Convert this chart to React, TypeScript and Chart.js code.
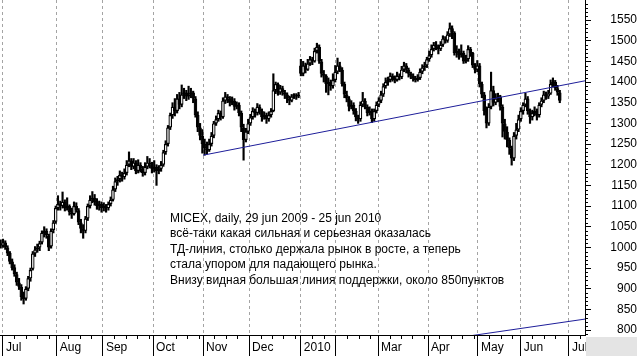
import { useEffect, useRef } from 'react';
import { Chart, registerables } from 'chart.js';

Chart.register(...registerables);

// Daily MICEX candles, 29 Jun 2009 – 25 Jun 2010 (index = trading day)
const opens = [
  1015, 1008, 1004, 1012, 1000, 987, 966, 952, 935, 915,
  905, 880, 876, 900, 925, 948, 985, 995, 1000, 1012,
  1035, 1040, 1028, 1002, 1042, 1062, 1095, 1106, 1100, 1110,
  1095, 1100, 1085, 1080, 1100, 1090, 1060, 1045, 1040, 1070,
  1100, 1115, 1120, 1110, 1100, 1105, 1095, 1100, 1095, 1105,
  1115, 1140, 1160, 1165, 1175, 1170, 1180, 1200, 1210, 1195,
  1205, 1185, 1200, 1190, 1180, 1195, 1205, 1200, 1190, 1195,
  1185, 1190, 1200, 1230, 1250, 1290, 1320, 1340, 1330, 1360,
  1345, 1370, 1375, 1365, 1370, 1375, 1360, 1320, 1290, 1270,
  1250, 1240, 1235, 1250, 1270, 1300, 1310, 1325, 1315, 1355,
  1365, 1360, 1350, 1355, 1340, 1345, 1325, 1290, 1260, 1280,
  1300, 1315, 1330, 1325, 1340, 1330, 1315, 1320, 1310, 1320,
  1330, 1380, 1395, 1375, 1385, 1375, 1370, 1360, 1355, 1365,
  1368, 1365, 1440, 1420, 1440, 1430, 1445, 1455, 1450, 1475,
  1485, 1450, 1420, 1415, 1395, 1400, 1390, 1405, 1425, 1440,
  1430, 1395, 1370, 1360, 1340, 1345, 1330, 1315, 1310, 1345,
  1355, 1340, 1325, 1330, 1310, 1330, 1345, 1355, 1370, 1390,
  1400, 1405, 1415, 1410, 1405, 1415, 1412, 1430, 1440, 1430,
  1420, 1415, 1410, 1405, 1410, 1425, 1435, 1440, 1455, 1465,
  1480, 1490, 1485, 1480, 1490, 1505, 1500, 1515, 1530, 1520,
  1470, 1475, 1465, 1470, 1450, 1455, 1480, 1470, 1440, 1430,
  1440, 1395, 1370, 1330, 1300, 1340, 1380, 1350, 1360, 1365,
  1340, 1300, 1280, 1260, 1240, 1215, 1270, 1285, 1310, 1330,
  1345, 1360, 1330, 1315, 1325, 1330, 1320, 1345, 1355, 1370,
  1365, 1372, 1395, 1400, 1385, 1375,
];
const highs = [
  1022, 1018, 1020, 1016, 1004, 990, 972, 958, 940, 925,
  910, 892, 905, 930, 950, 990, 1002, 1008, 1015, 1040,
  1050, 1045, 1032, 1045, 1065, 1100, 1125, 1112, 1134, 1115,
  1120, 1103, 1095, 1110, 1108, 1094, 1068, 1055, 1075, 1105,
  1125, 1135, 1128, 1118, 1112, 1110, 1108, 1104, 1110, 1122,
  1148, 1168, 1172, 1185, 1182, 1190, 1210, 1231, 1215, 1215,
  1210, 1212, 1205, 1196, 1205, 1220, 1215, 1206, 1210, 1200,
  1198, 1208, 1235, 1258, 1295, 1325, 1350, 1360, 1370, 1375,
  1393, 1385, 1380, 1390, 1385, 1378, 1365, 1328, 1300, 1285,
  1262, 1255, 1262, 1278, 1305, 1318, 1332, 1330, 1362, 1375,
  1370, 1365, 1364, 1360, 1352, 1350, 1330, 1298, 1288, 1310,
  1322, 1338, 1335, 1348, 1345, 1335, 1328, 1325, 1328, 1336,
  1420, 1400, 1398, 1392, 1390, 1380, 1374, 1366, 1370, 1372,
  1372, 1375, 1455, 1450, 1446, 1455, 1462, 1460, 1482, 1494,
  1490, 1455, 1428, 1418, 1410, 1405, 1420, 1440, 1458, 1448,
  1435, 1400, 1378, 1365, 1355, 1350, 1336, 1320, 1352, 1375,
  1360, 1345, 1340, 1335, 1335, 1352, 1362, 1378, 1396, 1410,
  1412, 1422, 1420, 1415, 1424, 1420, 1438, 1448, 1445, 1434,
  1424, 1420, 1414, 1418, 1432, 1442, 1448, 1460, 1475, 1490,
  1496, 1498, 1490, 1498, 1512, 1510, 1522, 1543, 1536, 1522,
  1488, 1480, 1490, 1475, 1465, 1488, 1484, 1472, 1445, 1452,
  1445, 1400, 1375, 1340, 1348, 1424, 1390, 1372, 1373, 1368,
  1345, 1310, 1292, 1265, 1245, 1278, 1300, 1320, 1338, 1350,
  1373, 1365, 1335, 1332, 1340, 1335, 1350, 1362, 1378, 1376,
  1380, 1405, 1410, 1404, 1392, 1380,
];
const lows = [
  1002, 998, 1000, 995, 980, 960, 945, 930, 908, 898,
  872, 863, 872, 895, 918, 945, 978, 988, 992, 1008,
  1025, 1022, 992, 998, 1035, 1058, 1090, 1090, 1095, 1088,
  1090, 1078, 1070, 1078, 1085, 1055, 1035, 1022, 1035, 1065,
  1095, 1108, 1102, 1092, 1090, 1085, 1088, 1085, 1090, 1100,
  1112, 1135, 1150, 1158, 1160, 1165, 1175, 1195, 1188, 1190,
  1178, 1180, 1182, 1172, 1175, 1190, 1192, 1180, 1182, 1150,
  1178, 1184, 1196, 1225, 1245, 1285, 1312, 1318, 1325, 1335,
  1340, 1360, 1355, 1358, 1362, 1350, 1315, 1280, 1260, 1228,
  1223, 1226, 1232, 1245, 1265, 1295, 1305, 1308, 1312, 1348,
  1350, 1342, 1345, 1332, 1335, 1318, 1280, 1211, 1255, 1275,
  1295, 1310, 1315, 1320, 1322, 1305, 1310, 1300, 1305, 1315,
  1328, 1372, 1368, 1370, 1368, 1360, 1350, 1345, 1352, 1360,
  1358, 1362, 1415, 1415, 1422, 1428, 1440, 1442, 1448, 1470,
  1445, 1412, 1400, 1375, 1369, 1380, 1385, 1400, 1420, 1425,
  1390, 1362, 1352, 1330, 1335, 1322, 1306, 1300, 1305, 1340,
  1335, 1318, 1320, 1302, 1305, 1325, 1340, 1350, 1365, 1385,
  1392, 1400, 1402, 1398, 1402, 1405, 1408, 1425, 1422, 1412,
  1408, 1402, 1400, 1402, 1406, 1420, 1428, 1435, 1450, 1460,
  1475, 1478, 1468, 1476, 1486, 1494, 1496, 1510, 1505, 1465,
  1460, 1455, 1460, 1445, 1446, 1450, 1462, 1435, 1422, 1425,
  1388, 1362, 1320, 1289, 1295, 1335, 1342, 1345, 1352, 1332,
  1267, 1262, 1243, 1225, 1199, 1210, 1262, 1280, 1305, 1322,
  1340, 1322, 1300, 1308, 1318, 1308, 1315, 1340, 1350, 1358,
  1360, 1370, 1388, 1380, 1368, 1350,
];
const closes = [
  1010, 1005, 1012, 1000, 985, 965, 950, 935, 915, 905,
  880, 875, 900, 925, 945, 985, 995, 1000, 1010, 1035,
  1040, 1030, 1000, 1040, 1060, 1095, 1105, 1100, 1110, 1095,
  1100, 1085, 1080, 1100, 1090, 1060, 1045, 1040, 1070, 1100,
  1115, 1120, 1110, 1100, 1105, 1095, 1100, 1095, 1105, 1115,
  1140, 1160, 1165, 1175, 1170, 1180, 1200, 1210, 1195, 1205,
  1185, 1200, 1190, 1180, 1195, 1205, 1200, 1190, 1195, 1185,
  1190, 1200, 1230, 1250, 1290, 1320, 1340, 1330, 1360, 1345,
  1370, 1375, 1365, 1370, 1375, 1360, 1320, 1290, 1270, 1250,
  1240, 1235, 1250, 1270, 1300, 1310, 1325, 1315, 1355, 1365,
  1360, 1350, 1355, 1340, 1345, 1325, 1290, 1260, 1280, 1300,
  1315, 1330, 1325, 1340, 1330, 1315, 1320, 1310, 1320, 1330,
  1380, 1395, 1375, 1385, 1375, 1370, 1360, 1355, 1365, 1368,
  1365, 1370, 1420, 1440, 1430, 1445, 1455, 1450, 1475, 1485,
  1450, 1420, 1415, 1395, 1400, 1390, 1405, 1425, 1440, 1430,
  1395, 1370, 1360, 1340, 1345, 1330, 1315, 1310, 1345, 1355,
  1340, 1325, 1330, 1310, 1330, 1345, 1355, 1370, 1390, 1400,
  1405, 1415, 1410, 1405, 1415, 1412, 1430, 1440, 1430, 1420,
  1415, 1410, 1405, 1410, 1425, 1435, 1440, 1455, 1465, 1480,
  1490, 1485, 1480, 1490, 1505, 1500, 1515, 1530, 1520, 1470,
  1475, 1465, 1470, 1450, 1455, 1480, 1470, 1440, 1430, 1440,
  1395, 1370, 1330, 1300, 1340, 1380, 1350, 1360, 1365, 1340,
  1300, 1280, 1260, 1240, 1215, 1270, 1285, 1310, 1330, 1345,
  1360, 1330, 1315, 1325, 1330, 1320, 1345, 1355, 1370, 1365,
  1372, 1395, 1400, 1385, 1375, 1355,
];

// Month boundaries (trading-day index) and their labels
const monthTickPositions = [2, 25.5, 45.6, 67.5, 89.3, 109.4, 132, 147.3, 165.7, 187.5, 209.3, 228, 249];
const monthLabels = ['Jul', 'Aug', 'Sep', 'Oct', 'Nov', 'Dec', '2010', '', 'Mar', 'Apr', 'May', 'Jun', 'Jul'];
const yTickValues = [800, 850, 900, 950, 1000, 1050, 1100, 1150, 1200, 1250, 1300, 1350, 1400, 1450, 1500, 1550];

// Trend lines (x = trading-day index, y = index points)
const resistanceLine = [
  { x: 89.3, y: 1223 },
  { x: 256, y: 1403 },
];
const supportLine = [
  { x: 205, y: 785.3 },
  { x: 256, y: 826.5 },
];

const noteLines = [
  'MICEX, daily, 29 jun 2009 - 25 jun 2010',
  'всё-таки какая сильная и серьезная оказалась',
  'ТД-линия, столько держала рынок в росте, а теперь',
  'стала упором для падающего рынка.',
  'Внизу видная большая линия поддержки, около 850пунктов',
];

const FONT = "'Liberation Sans', Arial, sans-serif";

const decorPlugin = {
  id: 'decor',
  afterDraw(chart: any) {
    const { ctx, chartArea } = chart;
    const xs = chart.scales.x;
    const ys = chart.scales.y;
    ctx.save();
    ctx.fillStyle = '#e4e4e4';
    ctx.fillRect(chartArea.right + 1, chartArea.bottom + 2, chart.width - chartArea.right - 1, chart.height - chartArea.bottom - 2);
    ctx.strokeStyle = '#000';
    ctx.lineWidth = 1;
    ctx.beginPath();
    for (let v = 790; v < 1598; v += 10) {
      if (v % 50 === 0) continue;
      const py = Math.round(ys.getPixelForValue(v)) + 0.5;
      ctx.moveTo(chartArea.right, py);
      ctx.lineTo(chartArea.right + 3, py);
    }
    for (let m = 0; m < monthTickPositions.length; m++) {
      const start = monthTickPositions[m];
      const end = m + 1 < monthTickPositions.length ? monthTickPositions[m + 1] : 256;
      for (let v = start + 5; v < end - 1.5; v += 5) {
        const px = Math.round(xs.getPixelForValue(v)) + 0.5;
        ctx.moveTo(px, chartArea.bottom);
        ctx.lineTo(px, chartArea.bottom + 4);
      }
    }
    ctx.stroke();
    ctx.restore();
  },
};

export default function App() {
  const ref = useRef<HTMLCanvasElement>(null);

  useEffect(() => {
    if (!ref.current) return;
    Chart.defaults.font.family = FONT;
    Chart.defaults.font.size = 12;
    Chart.defaults.color = '#000';

    const chart = new Chart(ref.current, {
      type: 'bar',
      data: {
        datasets: [
          {
            type: 'line',
            data: resistanceLine,
            borderColor: '#1e1e9a',
            borderWidth: 1,
            pointRadius: 0,
            order: 0,
          } as any,
          {
            type: 'line',
            data: supportLine,
            borderColor: '#1e1e9a',
            borderWidth: 1,
            pointRadius: 0,
            order: 0,
          } as any,
          {
            type: 'bar',
            data: opens.map((o, i) => ({ x: i, y: [o, closes[i]] })),
            backgroundColor: closes.map((c, i) => (c >= opens[i] ? '#ffffff' : '#000000')),
            borderColor: '#000',
            borderWidth: 1.2,
            borderSkipped: false,
            barThickness: 3.6,
            inflateAmount: 0,
            grouped: false,
            order: 1,
          } as any,
          {
            type: 'bar',
            data: lows.map((l, i) => ({ x: i, y: [l, highs[i]] })),
            backgroundColor: '#000',
            barThickness: 1.5,
            grouped: false,
            order: 2,
          } as any,
        ],
      },
      options: {
        responsive: false,
        animation: false,
        layout: { padding: 0, autoPadding: false },
        plugins: { legend: { display: false }, tooltip: { enabled: false } },
        scales: {
          x: {
            type: 'linear',
            min: 0.7,
            max: 256,
            offset: false,
            afterBuildTicks: (s: any) => {
              s.ticks = monthTickPositions.map((v) => ({ value: v }));
            },
            afterFit: (s: any) => {
              s.height = 21;
              s.paddingLeft = 0;
              s.paddingRight = 0;
            },
            ticks: {
              autoSkip: false,
              maxRotation: 0,
              minRotation: 0,
              align: 'start',
              labelOffset: 3,
              padding: -16,
              callback: (_v: any, i: number) => monthLabels[i] ?? '',
            },
            grid: {
              color: '#a4a4a4',
              offset: false,
              tickLength: 21,
              tickColor: '#000',
              tickWidth: 1,
            },
            border: { display: true, color: '#000', width: 1, dash: [3, 3] },
          },
          y: {
            type: 'linear',
            position: 'right',
            min: 788,
            max: 1598.5,
            afterBuildTicks: (s: any) => {
              s.ticks = yTickValues.map((v) => ({ value: v }));
            },
            afterFit: (s: any) => {
              s.width = 52;
              s.paddingTop = 0;
              s.paddingBottom = 0;
            },
            ticks: {
              autoSkip: false,
              crossAlign: 'far',
              padding: 14,
              callback: (v: any) => String(v),
            },
            grid: { drawOnChartArea: false, tickLength: 6, tickColor: '#000' },
            border: { display: true, color: '#000', width: 1 },
          },
        },
      } as any,
      plugins: [decorPlugin],
    });
    return () => chart.destroy();
  }, []);

  return (
    <div style={{ position: 'fixed', left: 0, top: 0, width: 637, height: 356, background: '#fff' }}>
      <canvas ref={ref} width={637} height={356} style={{ display: 'block' }} />
      <div
        style={{
          position: 'absolute',
          left: 170,
          top: 211,
          font: `12px ${FONT}`,
          lineHeight: '15.4px',
          color: '#000',
          whiteSpace: 'nowrap',
        }}
      >
        {noteLines.map((l) => (
          <div key={l}>{l}</div>
        ))}
      </div>
    </div>
  );
}
